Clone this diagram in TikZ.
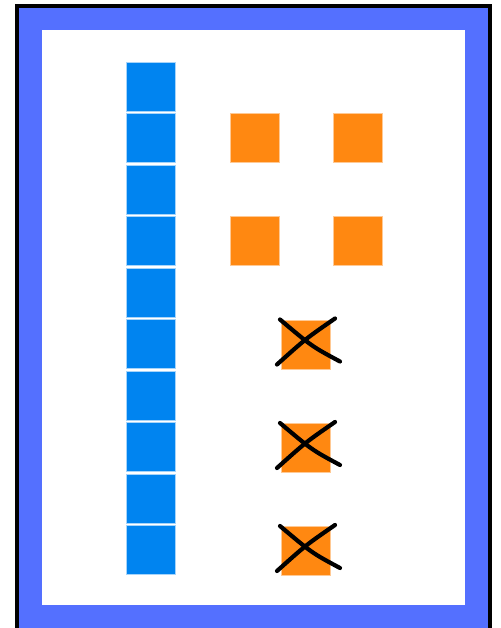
\documentclass[tikz,border=0pt]{standalone}
\usetikzlibrary{positioning}
\definecolor{framec}{HTML}{5470FF}
\definecolor{cellc}{HTML}{0084F0}
\definecolor{orangec}{HTML}{FF8811}

\tikzset{
  cell/.style={fill=cellc, draw=cellc!35!white, line width=0.6pt, minimum size=49pt, inner sep=0pt},
  pebble/.style={fill=orangec, draw=orangec!45!white, line width=0.6pt, minimum size=49pt, inner sep=0pt},
  strike/.style={line width=4.2pt, line cap=round}
}

\begin{document}
\begin{tikzpicture}[x=1pt, y=-1pt]
    \useasboundingbox (0,0) rectangle (500,628);
    % frame: black edge, blue band, white field
    \draw[line width=4pt] (17,6) rectangle (489.5,630);
    \draw[framec, line width=22.5pt] (30.5,19) rectangle (476.5,616.5);
    % column of ten cells, pitch 51.5
    \foreach \i in {0,...,9}
      \node[cell] (c\i) at (151.25,{86.75+51.5*\i}) {};
    % pebbles kept
    \node[pebble] (p1) at (254.5,138.25) {};
    \node[pebble] (p2) at (357.5,138.25) {};
    \node[pebble] (p3) at (254.5,241.25) {};
    \node[pebble] (p4) at (357.5,241.25) {};
    % pebbles struck out
    \foreach \j/\y in {5/344.5, 7/448, 9/551} {
      \node[pebble] (x\j) at (306,\y) {};
      \draw[strike] ([shift={(-29,20)}]x\j.center) .. controls ([shift={(0,-6)}]x\j.center) .. ([shift={(29,-26)}]x\j.center);
      \draw[strike] ([shift={(-26,-25)}]x\j.center) .. controls ([shift={(6,2)}]x\j.center) .. ([shift={(34,17)}]x\j.center);
    }
\end{tikzpicture}
\end{document}
